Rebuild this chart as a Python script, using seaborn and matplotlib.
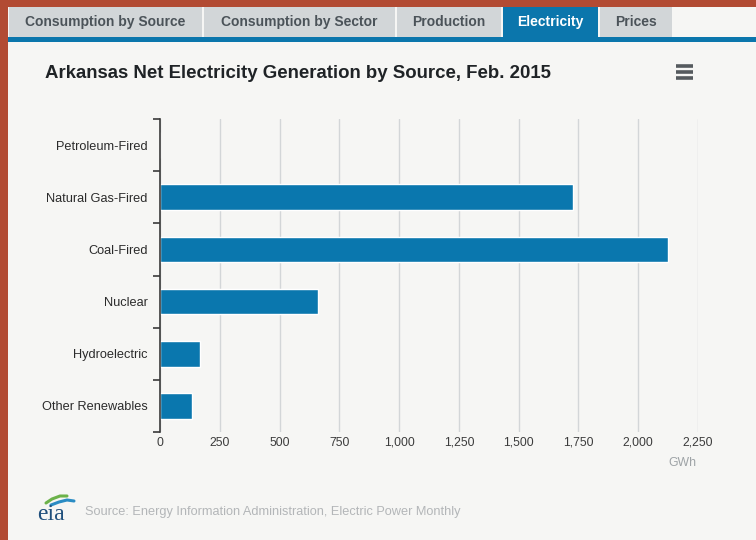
import matplotlib
matplotlib.use("Agg")
import matplotlib.pyplot as plt
import seaborn as sns
import pandas as pd
from matplotlib.patches import Rectangle
from matplotlib.ticker import FuncFormatter, FixedLocator

sources = ["Petroleum-Fired", "Natural Gas-Fired", "Coal-Fired", "Nuclear",
           "Hydroelectric", "Other Renewables"]
gwh = [1, 1729, 2126, 662, 167, 133]
x_ticks = [0, 250, 500, 750, 1000, 1250, 1500, 1750, 2000, 2250]
tabs = ["Consumption by Source", "Consumption by Sector", "Production",
        "Electricity", "Prices"]
title = "Arkansas Net Electricity Generation by Source, Feb. 2015"
source_note = "Source: Energy Information Administration, Electric Power Monthly"

sns.set_theme(style="white")
plt.rcParams['font.family'] = ['Liberation Sans', 'DejaVu Sans']

W, H = 756, 540
fig = plt.figure(figsize=(W / 100, H / 100), dpi=100)
fig.patch.set_facecolor("#f6f6f4")

# Overlay in pixel coordinates
bg = fig.add_axes([0, 0, 1, 1], zorder=0)
bg.set_xlim(0, W)
bg.set_ylim(H, 0)
bg.axis("off")

red = "#b24b33"
bg.add_patch(Rectangle((0, 0), 8, H, color=red, lw=0))
bg.add_patch(Rectangle((0, 0), W, 7, color=red, lw=0))

tab_pos = [(9, 202), (204, 395), (397, 501), (503, 598), (600, 672)]
for name, (x0, x1) in zip(tabs, tab_pos):
    active = name == "Electricity"
    bg.add_patch(Rectangle((x0, 7), x1 - x0, 30,
                           color="#0b76ac" if active else "#d2d6d8", lw=0))
    bg.text((x0 + x1) / 2, 26, name, ha="center", va="baseline",
            fontsize=10.0, fontweight="bold",
            color="white" if active else "#4b5359")
bg.add_patch(Rectangle((8, 37), W - 8, 5, color="#0b76ac", lw=0))

bg.text(45, 78, title, ha="left", va="baseline", fontsize=13.4,
        fontweight="bold", color="#1f2326")
for yy in (66, 72, 78):
    bg.plot([676, 693], [yy, yy], color="#555a5e", lw=2.6,
            solid_capstyle="butt")

bg.text(37, 514, "eia", ha="left", va="center", fontsize=17,
        family="Liberation Serif", color="#1f4f7c")
bg.plot([46, 52, 60, 67], [503, 499, 496, 496], color="#6cb24a", lw=2.2)
bg.plot([51, 59, 67, 74], [505, 502, 500, 501], color="#2a8cc4", lw=2.2)
bg.text(85, 512, source_note, ha="left", va="center", fontsize=9.2,
        color="#b3b6b8")

# Chart
left, right, top, bottom = 160, 698, 119, 432
ax = fig.add_axes([left / W, 1 - bottom / H, (right - left) / W,
                   (bottom - top) / H], zorder=1)
ax.patch.set_alpha(0)

df = pd.DataFrame({"source": sources, "gwh": gwh})
sns.barplot(data=df, x="gwh", y="source", orient="h", color="#0a77ae",
            saturation=1, width=0.49, ax=ax)

ax.set_xlim(0, 2250)
ax.set_ylim(len(sources) - 0.5, -0.5)
ax.xaxis.set_major_locator(FixedLocator(x_ticks))
ax.xaxis.set_major_formatter(FuncFormatter(lambda v, p: f"{int(v):,}"))
ax.grid(axis="x", color="#d3d6d8", lw=1)
ax.set_axisbelow(True)
for s in ["top", "right", "bottom"]:
    ax.spines[s].set_visible(False)
ax.spines["left"].set_color("#3a3a3a")
ax.spines["left"].set_linewidth(1.2)

ax.tick_params(axis="x", length=0, pad=10, labelsize=8.8, labelcolor="#3c3c3c")
for lab in ax.get_xticklabels():
    lab.set_verticalalignment("baseline")
ax.tick_params(axis="y", which="major", length=0, pad=9, labelsize=9.2,
               labelcolor="#2b2b2b")
ax.set_yticks([i - 0.5 for i in range(len(sources) + 1)], minor=True)
ax.tick_params(axis="y", which="minor", length=5, width=1.2, color="#3a3a3a",
               left=True)
ax.set_xlabel("")
ax.set_ylabel("")
bg.text(682, 463, "GWh", ha="center", va="center", fontsize=8.8,
        color="#9ea3a6")

fig.savefig("out.png", dpi=100, facecolor=fig.get_facecolor())
